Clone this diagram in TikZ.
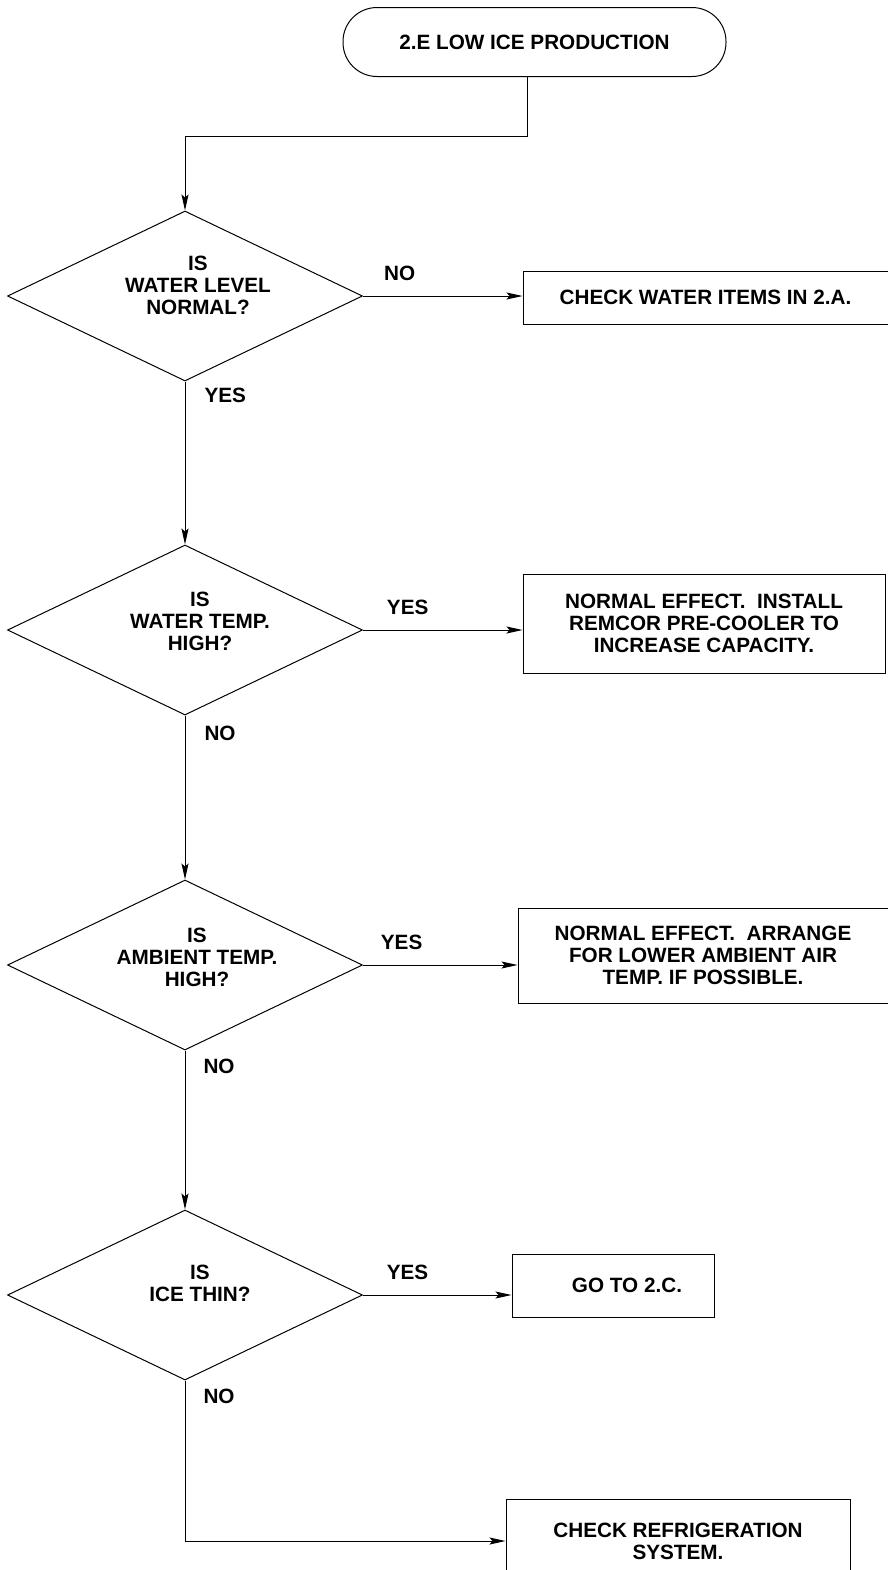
\documentclass[tikz,border=0pt]{standalone}
\usepackage{fontspec}
\setmainfont{Liberation Sans}
\usetikzlibrary{shapes.geometric,arrows.meta}

\begin{document}
\begin{tikzpicture}[->,>={Stealth[length=8pt,width=3.5pt,inset=1.5pt]},x=0.5pt,y=-0.5pt,
		line width=0.5pt,font=\fontsize{10.35}{11}\selectfont\bfseries,
		term/.style={draw,rectangle,rounded corners=17pt,minimum width=191.5pt,minimum height=34.5pt},
		dec/.style={draw,diamond,minimum width=177.5pt,minimum height=85pt,inner sep=0pt},
		act/.style={draw,rectangle,align=center,inner sep=0pt},
		lbl/.style={align=center,inner sep=0pt},
		tag/.style={inner sep=0pt}]
		\useasboundingbox (0,0) rectangle (888,1570);

		\node[term] (start) at (534.5,42) {2.E LOW ICE PRODUCTION};
		\coordinate (elbow) at (185,136);

		% questions
		\node[dec] (d1) at (185,296) {};
		\node[lbl] (d1t) at (198,285) {IS\\WATER LEVEL\\NORMAL?};
		\node[dec] (d2) at (185,630) {};
		\node[lbl] (d2t) at (200,621) {IS\\WATER TEMP.\\HIGH?};
		\node[dec] (d3) at (185,965) {};
		\node[lbl] (d3t) at (197,957) {IS\\AMBIENT TEMP.\\HIGH?};
		\node[dec] (d4) at (185,1295) {};
		\node[lbl] (d4t) at (200,1283) {IS\\ICE THIN?};

		% actions
		\node[act,minimum width=182.5pt,minimum height=26.5pt] (b1) at (705.5,297.5) {CHECK WATER ITEMS IN 2.A.};
		\node[act,minimum width=181pt,minimum height=49.5pt] (b2) at (704,623.5) {NORMAL EFFECT.\ \ INSTALL\\REMCOR PRE-COOLER TO\\INCREASE CAPACITY.};
		\node[act,minimum width=185pt,minimum height=47.5pt] (b3) at (703,955.5) {NORMAL EFFECT.\ \ ARRANGE\\FOR LOWER AMBIENT AIR\\TEMP. IF POSSIBLE.};
		\node[act,minimum width=101pt,minimum height=31.5pt] (b4) at (613,1285.5) {\hspace*{14pt}GO TO 2.C.};
		\node[act,minimum width=172pt,minimum height=42pt] (b5) at (678,1541) {CHECK REFRIGERATION\\SYSTEM.};

		\draw ([xshift=-3.75pt]start.south) |- (elbow) -- (d1.north);
		\draw (d1.east) -- node[tag,above=7.5pt,pos=0.23] {NO} (d1.east -| b1.west);
		\draw (d1.south) -- node[tag,right=9.5pt,pos=0.085] {YES} (d2.north);
		\draw (d2.east) -- node[tag,above=7.5pt,pos=0.28] {YES} (d2.east -| b2.west);
		\draw (d2.south) -- node[tag,right=9.5pt,pos=0.11] {NO} (d3.north);
		\draw (d3.east) -- node[tag,above=7.5pt,pos=0.25] {YES} (d3.east -| b3.west);
		\draw (d3.south) -- node[tag,right=9pt,pos=0.1] {NO} (d4.north);
		\draw (d4.east) -- node[tag,above=7.5pt,pos=0.30] {YES} (d4.east -| b4.west);
		\draw (d4.south) |- node[tag,right=9pt,pos=0.05] {NO} (b5.west);
\end{tikzpicture}
\end{document}
